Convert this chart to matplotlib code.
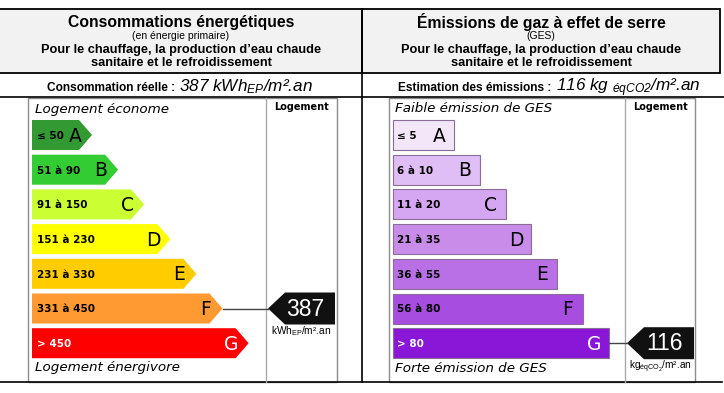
import matplotlib
matplotlib.use("Agg")
import matplotlib.pyplot as plt
from matplotlib.patches import Polygon, Rectangle

plt.rcParams['mathtext.fontset'] = 'custom'
plt.rcParams['mathtext.rm'] = 'Liberation Sans'
plt.rcParams['mathtext.it'] = 'Liberation Sans:italic'

# ---------------- data ----------------
classes = ["A", "B", "C", "D", "E", "F", "G"]
energy_ranges = ["≤ 50", "51 à 90", "91 à 150", "151 à 230", "231 à 330", "331 à 450", "> 450"]
energy_limits = [50, 90, 150, 230, 330, 450]
energy_colors = ["#339933", "#33cc33", "#ccff33", "#ffff00", "#ffcc00", "#ff9a33", "#ff0000"]
energy_value = 387

ges_ranges = ["≤ 5", "6 à 10", "11 à 20", "21 à 35", "36 à 55", "56 à 80", "> 80"]
ges_limits = [5, 10, 20, 35, 55, 80]
ges_colors = ["#f3e6f8", "#dfbdf5", "#d5a6f1", "#c98de9", "#b96fe5", "#a74de0", "#8a17d8"]
ges_value = 116


def class_index(value, limits):
    for i, lim in enumerate(limits):
        if value <= lim:
            return i
    return len(limits)


W, H = 724, 393
fig = plt.figure(figsize=(W / 100, H / 100), dpi=100)
ax = fig.add_axes([0, 0, 1, 1])
ax.set_xlim(0, W)
ax.set_ylim(H, 0)
ax.axis("off")

SANS = "Liberation Sans"
VER = "DejaVu Sans"

# ---------- frame lines ----------
ax.add_patch(Rectangle((-3, 9), 365, 64, facecolor="#f2f2f2", edgecolor="black", lw=1.3))
ax.add_patch(Rectangle((362, 9), 358, 64, facecolor="#f2f2f2", edgecolor="black", lw=1.3))
ax.plot([0, 724], [97, 97], color="black", lw=1.2)
ax.plot([0, 722], [382, 382], color="black", lw=1.2)
ax.plot([362, 362], [9, 382], color="black", lw=1.2)

# ---------- headers ----------
for cx, title, sub in [(181, "Consommations énergétiques", "(en énergie primaire)"),
                       (541, "Émissions de gaz à effet de serre", "(GES)")]:
    ax.text(cx, 22, title, ha="center", va="center", fontsize=11.3, fontweight="bold", family=SANS)
    ax.text(cx, 36, sub, ha="center", va="center", fontsize=7.5, family=SANS)
    ax.text(cx, 49.5, "Pour le chauffage, la production d\u2019eau chaude", ha="center", va="center",
            fontsize=9.2, fontweight="bold", family=SANS)
    ax.text(cx, 63.5, "sanitaire et le refroidissement", ha="center", va="center",
            fontsize=9.2, fontweight="bold", family=SANS)

# value lines
ax.text(178, 91, "Consommation réelle : ", ha="right", va="baseline", fontsize=8.6, fontweight="bold", family=SANS)
ax.text(179, 91, f"{energy_value} kWh" + r"$_{\mathregular{EP}}$" + "/m².an", ha="left", va="baseline",
        fontsize=12.3, style="italic", family=SANS)
ax.text(555, 91, "Estimation des émissions : ", ha="right", va="baseline", fontsize=8.6, fontweight="bold", family=SANS)
ax.text(556, 91, f"{ges_value} kg " + r"$_{\mathregular{éqCO2}}$" + "/m².an", ha="left", va="baseline",
        fontsize=12.3, style="italic", family=SANS)

# ---------- inner boxes ----------
for (x0, x1, xs) in [(28, 337, 266), (389, 695, 625)]:
    ax.add_patch(Rectangle((x0, 97.5), x1 - x0, 284, facecolor="white", edgecolor="#8c8c8c", lw=1.0))
    ax.plot([xs, xs], [97.5, 381.5], color="#aaaaaa", lw=1.0)
    ax.text((xs + x1) / 2, 107, "Logement", ha="center", va="center", fontsize=7, fontweight="bold", family=VER)

ax.text(35, 109, "Logement économe", ha="left", va="center", fontsize=9.7, style="italic", family=VER)
ax.text(35, 368, "Logement énergivore", ha="left", va="center", fontsize=9.7, style="italic", family=VER)
ax.text(395, 109, "Faible émission de GES", ha="left", va="center", fontsize=9.7, style="italic", family=VER)
ax.text(395, 368, "Forte émission de GES", ha="left", va="center", fontsize=9.7, style="italic", family=VER)

# ---------- bars ----------
Y0, PITCH, BH = 120, 34.7, 30
for i, (cls, rng, col) in enumerate(zip(classes, energy_ranges, energy_colors)):
    yt = Y0 + PITCH * i
    yc = yt + BH / 2
    tip = 92 + 26.1 * i
    body = tip - 13
    ax.add_patch(Polygon([(32, yt), (body, yt), (tip, yc), (body, yt + BH), (32, yt + BH)],
                         closed=True, facecolor=col, edgecolor="none"))
    tcol = "white" if cls == "G" else "black"
    ax.text(37, yc + 1, rng, ha="left", va="center", fontsize=7.5, fontweight="bold", family=VER, color=tcol)
    ax.text(tip - 17, yc + 1, cls, ha="center", va="center", fontsize=13.5, family=VER, color=tcol)

for i, (cls, rng, col) in enumerate(zip(classes, ges_ranges, ges_colors)):
    yt = Y0 + PITCH * i
    yc = yt + BH / 2
    right = 454 + 25.8 * i
    ax.add_patch(Rectangle((393, yt), right - 393, BH, facecolor=col, edgecolor="#8a6d99", lw=0.8))
    tcol = "white" if cls == "G" else "black"
    ax.text(397, yc + 1, rng, ha="left", va="center", fontsize=7.5, fontweight="bold", family=VER, color=tcol)
    ax.text(right - 15, yc + 1, cls, ha="center", va="center", fontsize=13.5, family=VER, color=tcol)

# ---------- indicators ----------
ei = class_index(energy_value, energy_limits)
yc = Y0 + PITCH * ei + BH / 2
tip_e = 92 + 26.1 * ei
ax.plot([tip_e, 268], [yc, yc], color="#444444", lw=1.0)
ax.add_patch(Polygon([(268, yc), (285, yc - 16), (335, yc - 16), (335, yc + 16), (285, yc + 16)],
                     closed=True, facecolor="#111111", edgecolor="none"))
ax.text(305, yc + 0.5, f"{energy_value}", ha="center", va="center", fontsize=16.5, color="white", family=SANS)
ax.text(301, yc + 23, "kWh" + r"$_{\mathregular{EP}}$" + "/m².an", ha="center", va="center", fontsize=7.3, family=SANS)

gi = class_index(ges_value, ges_limits)
yc = Y0 + PITCH * gi + BH / 2
right_g = 454 + 25.8 * gi
ax.plot([right_g, 627], [yc, yc], color="#444444", lw=1.0)
ax.add_patch(Polygon([(627, yc), (644, yc - 16), (694, yc - 16), (694, yc + 16), (644, yc + 16)],
                     closed=True, facecolor="#111111", edgecolor="none"))
ax.text(664, yc + 0.5, f"{ges_value}", ha="center", va="center", fontsize=16.5, color="white", family=SANS)
ax.text(660, yc + 24, "kg" + r"$_{\mathregular{éqCO_2}}$" + "/m².an", ha="center", va="center", fontsize=7.3, family=SANS)

fig.savefig("out.png", dpi=100)
